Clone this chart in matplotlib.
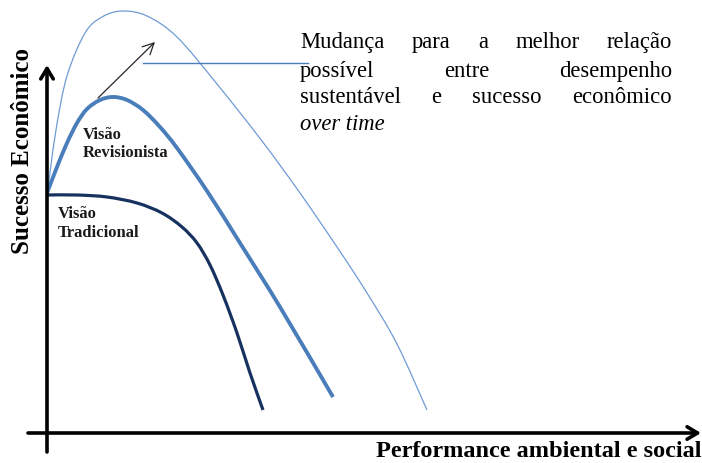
import matplotlib
matplotlib.use("Agg")
import matplotlib.pyplot as plt
import numpy as np
from matplotlib.path import Path
from matplotlib.patches import PathPatch

plt.rcParams['font.family'] = ['Liberation Serif', 'DejaVu Serif']

# curvas (x = performance ambiental e social, y = sucesso economico)
trad_x = [0, 30, 60, 90, 115, 135, 150, 163, 176, 190, 203, 216]
trad_y = [238, 238, 236, 230, 220, 206, 190, 168, 138, 100, 60, 23]

rev_x = [0, 10, 20, 30, 40, 53, 66, 80, 96, 113, 130, 160, 193, 233, 286]
rev_y = [240, 266, 290, 310, 324, 333, 336, 333, 323, 306, 285, 242, 190, 126, 36]

melhor_x = [0, 9, 20, 38, 55, 75, 100, 130, 170, 215, 253, 290, 320, 350, 380]
melhor_y = [238, 303, 357, 400, 416, 422, 417, 396, 349, 292, 240, 186, 140, 89, 23]

texto_linhas = [["Mudança", "para", "a", "melhor", "relação"],
                ["possível", "entre", "desempenho"],
                ["sustentável", "e", "sucesso", "econômico"]]
texto_final = "over time"
label_y = "Sucesso Econômico"
label_x = "Performance ambiental e social"


def curva(ax, x, y, **kw):
    # linha suave (bezier) passando pelos pontos
    p = np.column_stack([x, y]).astype(float)
    verts = [p[0]]
    codes = [Path.MOVETO]
    for i in range(len(p) - 1):
        p0 = p[i - 1] if i > 0 else p[i]
        p3 = p[i + 2] if i + 2 < len(p) else p[i + 1]
        c1 = p[i] + (p[i + 1] - p0) / 6
        c2 = p[i + 1] - (p3 - p[i]) / 6
        verts += [c1, c2, p[i + 1]]
        codes += [Path.CURVE4] * 3
    ax.add_patch(PathPatch(Path(verts, codes), fill=False, capstyle='butt', **kw))


fig = plt.figure(figsize=(7.02, 4.63), dpi=100)
ax = fig.add_axes([0, 0, 1, 1])
ax.set_xlim(-47, 655)
ax.set_ylim(-30, 433)
ax.axis('off')

# eixos
ax.annotate("", xy=(0, 368), xytext=(0, -19),
            arrowprops=dict(arrowstyle="->,head_length=0.75,head_width=0.45", lw=2.6,
                            color="black", shrinkA=0, shrinkB=0))
ax.annotate("", xy=(654, 0), xytext=(-19, 0),
            arrowprops=dict(arrowstyle="->,head_length=0.75,head_width=0.45", lw=2.6,
                            color="black", shrinkA=0, shrinkB=0))

curva(ax, melhor_x, melhor_y, edgecolor="#6F9BD5", lw=0.9)
curva(ax, rev_x, rev_y, edgecolor="#4A7EBB", lw=2.8)
curva(ax, trad_x, trad_y, edgecolor="#17325E", lw=2.3)

ax.annotate("", xy=(108, 391), xytext=(51, 335),
            arrowprops=dict(arrowstyle="->,head_length=0.8,head_width=0.4", lw=0.9,
                            color="#262626", shrinkA=0, shrinkB=0))
ax.plot([96, 261], [370, 370], color="#4A7EBB", lw=1)

ax.text(36, 294, "Visão", fontsize=12, fontweight='bold', color="#1a1a1a")
ax.text(36, 276, "Revisionista", fontsize=12, fontweight='bold', color="#1a1a1a")
ax.text(11, 215, "Visão", fontsize=12, fontweight='bold', color="#1a1a1a")
ax.text(11, 196, "Tradicional", fontsize=12, fontweight='bold', color="#1a1a1a")

ax.text(-24.5, 282, label_y, rotation=90, ha='center', va='center', fontsize=18, fontweight='bold')
ax.text(654, -24, label_x, ha='right', va='baseline', fontsize=17.5, fontweight='bold')

# texto justificado
x0, x1 = 253, 625
bases = [385, 356, 330]
renderer = fig.canvas.get_renderer()
escala = ax.transData.transform((1, 0))[0] - ax.transData.transform((0, 0))[0]
for linha, base in zip(texto_linhas, bases):
    palavras = [ax.text(0, base, p, fontsize=16.3, va='baseline') for p in linha]
    larg = [t.get_window_extent(renderer).width / escala for t in palavras]
    gap = (x1 - x0 - sum(larg)) / (len(linha) - 1)
    x = x0
    for t, w in zip(palavras, larg):
        t.set_x(x)
        x += w + gap
ax.text(x0, 303, texto_final, fontsize=16.3, style='italic', va='baseline')

fig.savefig("out.png", dpi=100)
